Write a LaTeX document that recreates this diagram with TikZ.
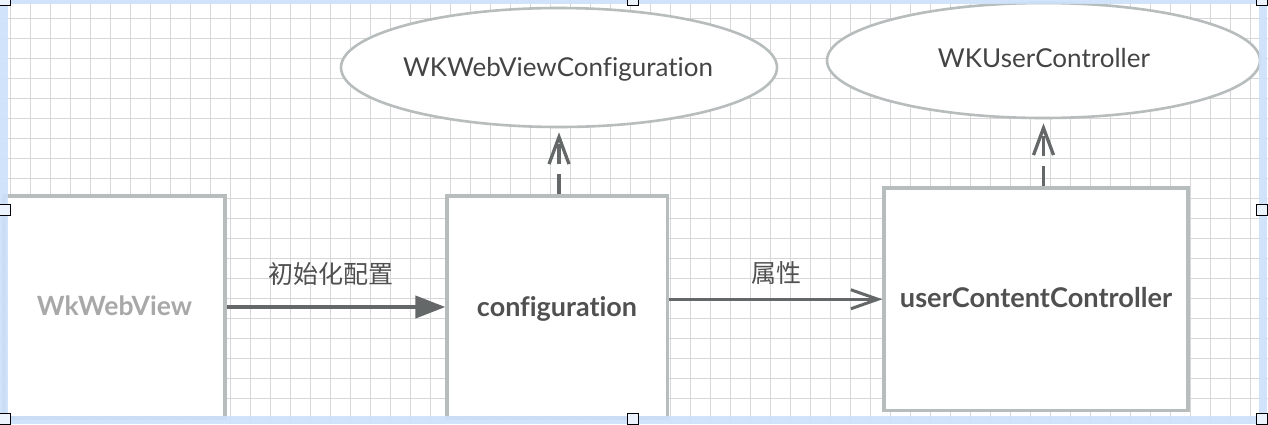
\documentclass[tikz,border=0pt]{standalone}
\usepackage{fontspec}
\usetikzlibrary{arrows.meta,shapes.geometric}
\newfontfamily\latofont[Ligatures={NoCommon,NoRare,NoDiscretionary}]{Lato}
\newfontfamily\cjkfont{Noto Sans CJK SC}
\definecolor{gridc}{RGB}{215,215,215}
\definecolor{boxc}{RGB}{183,188,189}
\definecolor{arrc}{RGB}{100,104,104}
\definecolor{selc}{RGB}{205,225,250}
\definecolor{hfill}{RGB}{236,243,253}
\definecolor{txtdark}{RGB}{80,80,80}
\definecolor{txtell}{RGB}{68,68,68}
\definecolor{txtgray}{RGB}{168,168,168}
\tikzset{
  boxnode/.style={draw=boxc, line width=3.2pt, fill=white, rectangle, inner sep=0pt},
  ellnode/.style={draw=boxc, line width=2.6pt, fill=white, ellipse, inner sep=0pt},
  lbl/.style={inner sep=0pt, anchor=base},
  cjklbl/.style={inner sep=0pt, text=txtdark, font=\cjkfont\fontsize{25}{30}\selectfont},
  conn/.style={draw=arrc},
  handle/.style={draw=black, line width=1.5pt, fill=hfill}
}
\begin{document}
\begin{tikzpicture}[x=1pt,y=-1pt]
\useasboundingbox (0,0) rectangle (1268,424);
\fill[white] (0,0) rectangle (1268,424);
% grid
\foreach \i in {0,...,62} {
  \draw[gridc, line width=1pt] ({10.7+20*\i},0) -- ({10.7+20*\i},424);
}
\foreach \i in {0,...,20} {
  \draw[gridc, line width=1pt] (0,{18.3+20*\i}) -- (1268,{18.3+20*\i});
}
% boxes
\node[boxnode, minimum width=221pt, minimum height=222pt] (wk) at (114.5,307) {};
\node[boxnode, minimum width=220.5pt, minimum height=222pt] (conf) at (557.25,307) {};
\node[boxnode, minimum width=304pt, minimum height=222.5pt] (ucc) at (1036,299.25) {};
% ellipses
\node[ellnode, minimum width=436pt, minimum height=119pt] (e1) at (559,67.5) {};
\node[ellnode, minimum width=433pt, minimum height=115pt] (e2) at (1043.5,60.5) {};
% texts
\node[lbl, text=txtgray] (wkt) at (114.5,315) {\resizebox{155pt}{!}{\latofont\bfseries WkWebView}};
\node[lbl, text=txtdark] (conft) at (557,316) {\resizebox{160pt}{!}{\latofont\bfseries configuration}};
\node[lbl, text=txtdark] (ucct) at (1036,307) {\resizebox{272pt}{!}{\latofont\bfseries userContentController}};
\node[lbl, text=txtell] (e1t) at (558,76) {\resizebox{310pt}{!}{\latofont WKWebViewConfiguration}};
\node[lbl, text=txtell] (e2t) at (1044,67.7) {\resizebox{212pt}{!}{\latofont WKUserController}};
\node[cjklbl] (l1) at (331,274) {初始化配置};
\node[cjklbl] (l2) at (776,273.5) {属性};
% connectors
\draw[conn, line width=4pt, -{Triangle[length=30pt,width=22pt]}] (wk.east) -- (conf.west);
\draw[conn, line width=3pt, -{Straight Barb[length=27pt,width=19pt]}] (ucc.west -| conf.east) -- (ucc.west);
\draw[conn, line width=3.3pt, dash pattern=on 20pt off 10pt, shorten >=4pt, -{Straight Barb[length=27pt,width=20pt]}] (e1.south |- conf.north) -- (e1.south);
\draw[conn, line width=3.3pt, dash pattern=on 20pt off 10pt, shorten >=4pt, -{Straight Barb[length=27pt,width=20pt]}] (e2.south |- ucc.north) -- (e2.south);
% selection frame
\draw[selc, line width=8pt, opacity=0.9] (4,0) rectangle (1263,420);
\foreach \p in {(5,0),(633,0),(1262,0),(5,210),(1262,210),(5,419),(633,419),(1262,419)} {
  \draw[handle] \p ++(-5.5,-5.5) rectangle ++(11,11);
}
\end{tikzpicture}
\end{document}
